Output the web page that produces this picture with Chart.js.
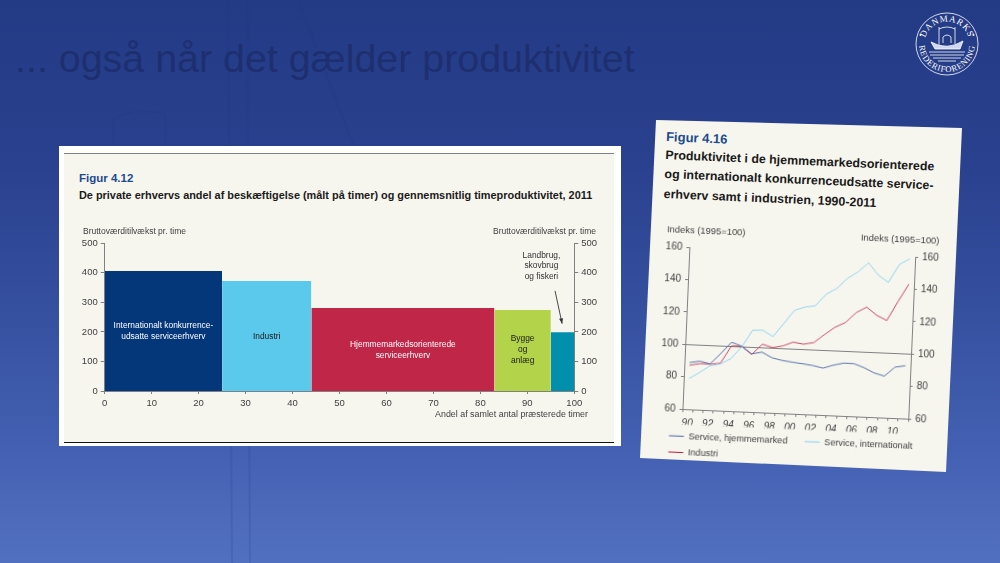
<!DOCTYPE html>
<html lang="da">
<head>
<meta charset="utf-8">
<title>... også når det gælder produktivitet</title>
<script src="https://cdn.jsdelivr.net/npm/chart.js@4"></script>
<style>
  html, body { margin: 0; padding: 0; }
  body { width: 1000px; height: 563px; overflow: hidden; font-family: "Liberation Sans", Arial, sans-serif; }
  #slide { position: relative; width: 1000px; height: 563px; overflow: hidden;
    background: linear-gradient(180deg, #233a85 0%, #2a418f 30%, #35509f 55%, #4460b2 80%, #5270c0 100%); }
  #slide > svg { position: absolute; left: 0; top: 0; }
  h1 { position: absolute; left: 15px; top: 36px; margin: 0; font-size: 39.4px; font-weight: 400; color: #1e2f70; white-space: nowrap; }
  #panelLeft { position: absolute; left: 59px; top: 146px; width: 562px; height: 300px; background: #fff; }
  #creamLeft { position: absolute; left: 5px; top: 7px; width: 550px; height: 290px; background: #f7f6ee;
    border-top: 1px solid #808080; border-bottom: 1px solid #111; box-sizing: border-box; }
  #panelLeft canvas { position: absolute; left: 0; top: 0; }
  #panelRight { position: absolute; left: 0; top: 0; width: 1000px; height: 563px; background: #f7f6ee;
    clip-path: polygon(656px 120px, 962px 128px, 946px 472px, 640px 458px); }
  #rotated { position: absolute; left: 665px; top: 116px; width: 290px; height: 350px;
    transform-origin: 0 0; transform: rotate(2.45deg); }
  #rotated canvas { position: absolute; left: 0; top: 0; }
  .fig { position: absolute; margin: 0; color: #1c4b8f; font-weight: 700; white-space: nowrap; }
  .sub { position: absolute; margin: 0; color: #1a1a1a; font-weight: 700; white-space: nowrap; }
</style>
</head>
<body>
<div id="slide">
  <svg width="1000" height="563" fill="none" stroke="#1f3580" stroke-opacity="0.16">
    <path d="M228 0 L232 563 M247 0 L250 563 M298 0 L355 150" stroke-width="2"/>
    <path d="M113 150 L113 120 Q135 105 165 115 L165 150" stroke-width="2"/>
  </svg>
  <h1>... også når det gælder produktivitet</h1>

  <svg width="1000" height="563">
    <defs>
      <path id="arcTop" d="M924.5 44 A22.5 22.5 0 0 1 969.5 44"/>
      <path id="arcBottom" d="M919 44 A28 28 0 0 0 975 44"/>
    </defs>
    <circle cx="947" cy="44" r="31" fill="none" stroke="#fff" stroke-width="0.8"/>
    <text font-family="Liberation Serif" font-size="9" fill="#fff" text-anchor="middle" letter-spacing="0.8">
      <textPath href="#arcTop" startOffset="50%">DANMARKS</textPath>
    </text>
    <text font-family="Liberation Serif" font-size="8.6" fill="#fff" text-anchor="middle" letter-spacing="0.7">
      <textPath href="#arcBottom" startOffset="50%">REDERIFORENING</textPath>
    </text>
    <circle cx="920.5" cy="35" r="1" fill="#fff"/>
    <circle cx="973.5" cy="35" r="1" fill="#fff"/>
    <g fill="none" stroke="#fff" stroke-width="0.8">
      <path d="M931 42 Q947 51 963 41 L960 49 L935 49 Z" fill="#cfd8ee"/>
      <path d="M939 45 L939 27 M955 44 L955 27 M939 29 Q947 25 955 29"/>
      <path d="M943 43 L943 37 Q947 33 951 37 L951 43"/>
      <path d="M929 52 H965 M930 55 H964 M933 58 H961 M938 61 H956"/>
    </g>
  </svg>

  <div id="panelLeft">
    <div id="creamLeft"></div>
    <p class="fig" style="left:20px;top:26px;font-size:11.5px;">Figur 4.12</p>
    <p class="sub" style="left:20px;top:43px;font-size:10.9px;">De private erhvervs andel af beskæftigelse (målt på timer) og gennemsnitlig timeproduktivitet, 2011</p>
    <canvas id="shareChart" width="562" height="300"></canvas>
  </div>

  <div id="panelRight"></div>
  <div id="rotated">
    <p class="fig" style="left:2px;top:13px;font-size:13px;">Figur 4.16</p>
    <p class="sub" style="left:2px;top:32px;font-size:12.4px;">Produktivitet i de hjemmemarkedsorienterede</p>
    <p class="sub" style="left:2px;top:51px;font-size:12.4px;">og internationalt konkurrenceudsatte service-</p>
    <p class="sub" style="left:2px;top:71px;font-size:12.4px;">erhverv samt i industrien, 1990-2011</p>
    <canvas id="indexChart" width="282" height="350"></canvas>
  </div>
</div>

<script>
const FONT = "'Liberation Sans', Arial, sans-serif";
const AXIS_GREY = "#808080";
const TEXT_GREY = "#404040";

// Figur 4.12
const shareEdges = [0, 25, 44, 83, 95, 100];
const shareValues = [406, 372, 281, 274, 199];
const shareNames = [
  "International",
  "Industri",
  "Hjemmemarked",
  "Bygge og anlæg",
  "Landbrug, skovbrug og fiskeri",
];
const shareColors = ["#04367a", "#5bc9ec", "#c02648", "#b3d34a", "#008fac"];
const shareTicksX = [0, 10, 20, 30, 40, 50, 60, 70, 80, 90, 100];
const shareTicksY = [0, 100, 200, 300, 400, 500];
const shareAxisName = "Bruttoværditilvækst pr. time";
const shareXName = "Andel af samlet antal præsterede timer";

// Figur 4.16
const years = ["90", "91", "92", "93", "94", "95", "96", "97", "98", "99", "00", "01", "02", "03", "04", "05", "06", "07", "08", "09", "10", "11"];
const serviceHome = [88.9, 90, 88.6, 95.3, 102.5, 100.3, 95.9, 97.2, 94, 92.6, 91.8, 91.1, 90.3, 89, 91.1, 92.6, 92.5, 90.3, 87.3, 85.7, 91.5, 92.6];
const serviceInt = [79, 83, 87.4, 88.9, 92.4, 99.9, 110.5, 110.7, 107.1, 115.4, 123.9, 126.1, 127.2, 134.6, 138.4, 144.9, 149.2, 155.1, 147.7, 143.5, 154.9, 158.7];
const industry = [87.2, 88.5, 88.4, 89.3, 100.2, 100.3, 95.5, 102.1, 100.3, 101.6, 104.2, 103.2, 104.5, 109.7, 114.5, 117.7, 124.1, 127.7, 122.9, 120, 131.8, 143];
const indexTicks = [60, 80, 100, 120, 140, 160];
const indexAxisName = "Indeks (1995=100)";

const shareDatasets = shareValues.map((value, i) => ({
  label: shareNames[i],
  data: [
    { x: shareEdges[i], y: value },
    { x: shareEdges[i + 1], y: value },
  ],
  backgroundColor: shareColors[i],
  borderWidth: 0,
  pointRadius: 0,
  fill: "origin",
}));

const fixTicks = (wanted) => (axis) => {
  axis.ticks = wanted.map((value) => ({ value }));
};

const drawLines = (ctx, lines, x, y, gap, font, color, align) => {
  ctx.font = font;
  ctx.fillStyle = color;
  ctx.textAlign = align || "center";
  ctx.textBaseline = "middle";
  lines.forEach((line, i) => {
    ctx.fillText(line, x, y + (i - (lines.length - 1) / 2) * gap);
  });
};

const shareTextPlugin = {
  id: "shareText",
  afterDatasetsDraw(chart) {
    const { ctx, scales: { x, y } } = chart;
    ctx.save();
    const f = `8.4px ${FONT}`;
    drawLines(ctx, ["Internationalt konkurrence-", "udsatte serviceerhverv"], x.getPixelForValue(12.5), y.getPixelForValue(203), 11.5, f, "#ffffff");
    drawLines(ctx, ["Industri"], x.getPixelForValue(34.5), y.getPixelForValue(183), 11.5, f, "#1a1a1a");
    drawLines(ctx, ["Hjemmemarkedsorienterede", "serviceerhverv"], x.getPixelForValue(63.5), y.getPixelForValue(139), 11.5, f, "#ffffff");
    drawLines(ctx, ["Bygge", "og", "anlæg"], x.getPixelForValue(89), y.getPixelForValue(139), 11, f, "#1a1a1a");
    drawLines(ctx, ["Landbrug,", "skovbrug", "og fiskeri"], x.getPixelForValue(93), y.getPixelForValue(424), 10.5, f, "#333333");
    drawLines(ctx, [shareAxisName], 24, 86, 0, `8.5px ${FONT}`, TEXT_GREY, "left");
    drawLines(ctx, [shareAxisName], 537, 86, 0, `8.5px ${FONT}`, TEXT_GREY, "right");
    drawLines(ctx, [shareXName], 529, 269, 0, `8.9px ${FONT}`, TEXT_GREY, "right");

    const x0 = x.getPixelForValue(95.9);
    const y0 = y.getPixelForValue(339);
    const x1 = x.getPixelForValue(97.4);
    const y1 = y.getPixelForValue(228);
    ctx.strokeStyle = "#333333";
    ctx.lineWidth = 0.9;
    ctx.beginPath();
    ctx.moveTo(x0, y0);
    ctx.lineTo(x1, y1);
    ctx.stroke();
    ctx.fillStyle = "#333333";
    ctx.beginPath();
    ctx.moveTo(x1, y1);
    ctx.lineTo(x1 - 3, y1 - 5);
    ctx.lineTo(x1 + 1, y1 - 5.5);
    ctx.closePath();
    ctx.fill();
    ctx.restore();
  },
};

const shareYAxis = (position, width) => ({
  type: "linear",
  position,
  min: 0,
  max: 500,
  afterBuildTicks: fixTicks(shareTicksY),
  afterFit(axis) {
    axis.width = width;
  },
  border: { color: AXIS_GREY },
  grid: { drawOnChartArea: false, color: AXIS_GREY, tickLength: 4 },
  ticks: { color: TEXT_GREY, padding: 3, font: { family: FONT, size: 9.5 } },
});

new Chart(document.getElementById("shareChart"), {
  type: "line",
  data: { datasets: shareDatasets },
  plugins: [shareTextPlugin],
  options: {
    responsive: false,
    animation: false,
    layout: { padding: { top: 97.3 } },
    plugins: { legend: { display: false }, title: { display: false }, tooltip: { enabled: false } },
    scales: {
      x: {
        type: "linear",
        min: 0,
        max: 100,
        afterBuildTicks: fixTicks(shareTicksX),
        afterFit(axis) {
          axis.height = 55;
        },
        border: { color: AXIS_GREY },
        grid: { drawOnChartArea: false, color: AXIS_GREY, tickLength: 3 },
        ticks: { color: TEXT_GREY, padding: 4, maxRotation: 0, font: { family: FONT, size: 9.5 } },
      },
      y: shareYAxis("left", 45.7),
      y2: shareYAxis("right", 46.7),
    },
  },
});

const indexTextPlugin = {
  id: "indexText",
  // the legend sits a little in from the canvas edge in the original
  afterLayout(chart) {
    chart.legend.left = 10.6;
  },
  afterDraw(chart) {
    const { ctx } = chart;
    ctx.save();
    drawLines(ctx, [indexAxisName], 7, 113, 0, `9.4px ${FONT}`, TEXT_GREY, "left");
    drawLines(ctx, [indexAxisName], 201, 113, 0, `9.4px ${FONT}`, TEXT_GREY, "left");
    ctx.restore();
  },
};

const indexYAxis = (position, width) => ({
  type: "linear",
  position,
  min: 60,
  max: 160,
  afterBuildTicks: fixTicks(indexTicks),
  afterFit(axis) {
    axis.width = width;
  },
  border: { color: AXIS_GREY },
  grid: {
    color: (c) => (position === "left" && c.tick.value === 100 ? AXIS_GREY : "transparent"),
    tickColor: AXIS_GREY,
    tickLength: 3,
  },
  ticks: { color: TEXT_GREY, padding: 4, font: { family: FONT, size: 10 } },
});

const indexLine = (label, data, color, legendColor) => ({
  label,
  data,
  borderColor: color,
  backgroundColor: legendColor,
  borderWidth: 0.9,
  pointRadius: 0,
  tension: 0,
  yAxisID: "y",
});

new Chart(document.getElementById("indexChart"), {
  type: "line",
  data: {
    labels: years,
    datasets: [
      indexLine("Service, hjemmemarked", serviceHome, "#4a66a3", "#4a66a3"),
      indexLine("Service, internationalt", serviceInt, "#84d2ee", "#84d2ee"),
      indexLine("Industri", industry, "#c6385c", "#c0143c"),
    ],
  },
  plugins: [indexTextPlugin],
  options: {
    responsive: false,
    animation: false,
    layout: { padding: { top: 130 } },
    plugins: {
      title: { display: false },
      tooltip: { enabled: false },
      legend: {
        position: "bottom",
        align: "start",
        labels: {
          color: TEXT_GREY,
          boxWidth: 15,
          boxHeight: 1,
          padding: 7,
          font: { family: FONT, size: 9.2 },
          generateLabels(chart) {
            return Chart.defaults.plugins.legend.labels.generateLabels(chart).map((item, i) => ({
              ...item,
              text: i === 0 ? item.text + "    " : item.text,
              lineWidth: 0,
            }));
          },
        },
      },
    },
    scales: {
      x: {
        type: "category",
        offset: true,
        afterFit(axis) {
          axis.height = 15.5;
        },
        border: { color: AXIS_GREY },
        grid: { offset: true, drawOnChartArea: false, color: AXIS_GREY, tickLength: 3 },
        ticks: {
          color: TEXT_GREY,
          padding: 5,
          maxRotation: 0,
          autoSkip: false,
          font: { family: FONT, size: 10, style: "italic" },
          callback(value, index) {
            return index % 2 === 0 && index < years.length - 1 ? years[index] : "";
          },
        },
      },
      y: indexYAxis("left", 30),
      y2: indexYAxis("right", 26),
    },
  },
});
</script>
</body>
</html>
